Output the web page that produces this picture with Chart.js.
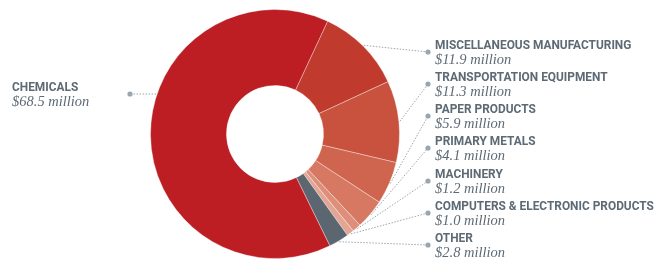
<!DOCTYPE html>
<html>
<head>
<meta charset="utf-8">
<script src="https://cdn.jsdelivr.net/npm/chart.js@4.4.0/dist/chart.umd.min.js"></script>
<style>
  html, body { margin: 0; padding: 0; background: #fff; }
  #wrap { position: relative; width: 662px; height: 260px; }
</style>
</head>
<body>
<div id="wrap"><canvas id="canvas" width="662" height="260"></canvas></div>
<script>
// Datos (millones de dolares)
const categorias = ['MISCELLANEOUS MANUFACTURING', 'TRANSPORTATION EQUIPMENT', 'PAPER PRODUCTS', 'PRIMARY METALS', 'MACHINERY', 'COMPUTERS & ELECTRONIC PRODUCTS', 'OTHER', 'CHEMICALS'];
const valores = [11.9, 11.3, 5.9, 4.1, 1.2, 1.0, 2.8, 68.5];
const etiquetasValor = ['$11.9 million', '$11.3 million', '$5.9 million', '$4.1 million', '$1.2 million', '$1.0 million', '$2.8 million', '$68.5 million'];

const colores = ['#c13a2e', '#c8523e', '#cf654f', '#d67862', '#dd8f7b', '#e4a592', '#5b6670', '#bc1e24'];

// posicion del punto de cada etiqueta
const puntosRot = [
  { x: 428, y: 52 }, { x: 428, y: 84 }, { x: 428, y: 116 }, { x: 428, y: 148 },
  { x: 428, y: 181 }, { x: 428, y: 213 }, { x: 428, y: 245 }, { x: 130, y: 94 }
];

const colorTexto = '#5d6a75';
const colorLinea = '#9aa6ae';

const etiquetasPlugin = {
  id: 'etiquetas',
  afterDraw(chart) {
    const ctx = chart.ctx;
    const arcs = chart.getDatasetMeta(0).data;
    ctx.save();
    arcs.forEach((arc, i) => {
      const p = puntosRot[i];
      const r = arc.outerRadius + 1;
      let sx, sy;
      if (p.x < arc.x) {
        // linea horizontal hasta el borde del arco
        sy = p.y;
        sx = arc.x - Math.sqrt(r * r - (p.y - arc.y) * (p.y - arc.y));
      } else {
        const mid = (arc.startAngle + arc.endAngle) / 2;
        sx = arc.x + Math.cos(mid) * r;
        sy = arc.y + Math.sin(mid) * r;
      }
      ctx.strokeStyle = colorLinea;
      ctx.lineWidth = 1;
      ctx.setLineDash([1.5, 1.5]);
      ctx.beginPath();
      ctx.moveTo(sx, sy);
      ctx.lineTo(p.x, p.y);
      ctx.stroke();
      ctx.setLineDash([]);
      ctx.fillStyle = colorLinea;
      ctx.beginPath();
      ctx.arc(p.x, p.y, 2.6, 0, Math.PI * 2);
      ctx.fill();

      // textos
      const tx = p.x < arc.x ? 12 : p.x + 7;
      ctx.fillStyle = colorTexto;
      ctx.textBaseline = 'middle';
      ctx.textAlign = 'left';
      ctx.font = 'bold 13.5px Roboto, "Liberation Sans", sans-serif';
      ctx.save();
      ctx.translate(tx, p.y - 6.5);
      ctx.scale(0.88, 1);
      ctx.fillText(categorias[i], 0, 0);
      ctx.restore();
      ctx.font = 'italic 14.5px "Liberation Serif", "DejaVu Serif", serif';
      ctx.fillText(etiquetasValor[i], tx, p.y + 8);
    });
    ctx.restore();
  }
};

const grafico = document.getElementById('canvas');

new Chart(grafico, {
  type: 'doughnut',
  data: {
    labels: categorias,
    datasets: [
      {
        data: valores,
        backgroundColor: colores,
        borderColor: 'rgba(255, 255, 255, 0.35)',
        borderWidth: 1,
      },
    ],
  },
  options: {
    responsive: false,
    animation: false,
    rotation: 25,
    cutout: '39%',
    layout: { padding: { left: 150, right: 262, top: 9, bottom: 1 } },
    plugins: {
      legend: { display: false },
      tooltip: { enabled: false },
    },
  },
  plugins: [etiquetasPlugin],
});
</script>
</body>
</html>
